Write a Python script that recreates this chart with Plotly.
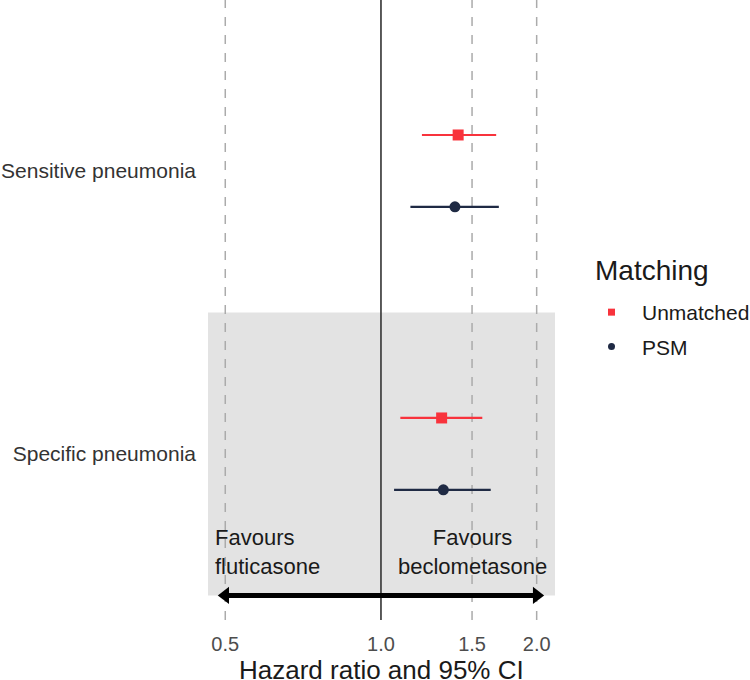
import numpy as np
import plotly.graph_objects as go

# ---- data ----
outcomes = ["Sensitive pneumonia", "Specific pneumonia"]
matching = ["Unmatched", "PSM"]
hr_unmatched = [1.41, 1.31]
lo_unmatched = [1.20, 1.09]
hi_unmatched = [1.67, 1.57]
hr_psm = [1.39, 1.32]
lo_psm = [1.14, 1.06]
hi_psm = [1.69, 1.63]
dashed_refs = [0.5, 1.5, 2.0]
null_ref = 1.0
x_ticks = [0.5, 1.0, 1.5, 2.0]
x_tick_labels = ["0.5", "1.0", "1.5", "2.0"]
arrow_ends = [0.5, 2.0]
favour_labels = ["Favours<br>fluticasone", "Favours<br>beclometasone"]
legend_title = "Matching"
x_title = "Hazard ratio and 95% CI"

FONT = "Liberation Sans, Arial, sans-serif"
colors = {"Unmatched": "#F8333C", "PSM": "#1F2A44"}
symbols = {"Unmatched": "square", "PSM": "circle"}
offsets = {"Unmatched": 0.127, "PSM": -0.127}

# category positions: first outcome at top
ypos = {o: len(outcomes) - i for i, o in enumerate(outcomes)}

fig = go.Figure()

series = {
    "Unmatched": (hr_unmatched, lo_unmatched, hi_unmatched),
    "PSM": (hr_psm, lo_psm, hi_psm),
}

for m in matching:
    hr, lo, hi = series[m]
    y = [ypos[o] + offsets[m] for o in outcomes]
    fig.add_trace(go.Scatter(
        x=hr, y=y, mode="markers", name=m, showlegend=False,
        marker=dict(symbol=symbols[m], size=11, color=colors[m]),
        error_x=dict(type="data", symmetric=False,
                     array=[h - r for h, r in zip(hi, hr)],
                     arrayminus=[r - l for r, l in zip(hr, lo)],
                     color=colors[m], thickness=2.2, width=0),
    ))
    # legend entry with smaller glyph
    fig.add_trace(go.Scatter(
        x=[None], y=[None], mode="markers", name=m, legendgroup=m,
        marker=dict(symbol=symbols[m], size=7, color=colors[m]),
    ))

# arrow
fig.add_trace(go.Scatter(
    x=arrow_ends, y=[0.5, 0.5], mode="lines+markers", showlegend=False,
    line=dict(color="black", width=5),
    marker=dict(symbol=["triangle-left", "triangle-right"], size=15, color="black"),
    hoverinfo="skip",
))

shapes = [dict(type="rect", xref="paper", x0=0, x1=1, yref="y", y0=0.5, y1=1.5,
               fillcolor="#E3E3E3", line=dict(width=0), layer="below")]
for v in dashed_refs:
    shapes.append(dict(type="line", xref="x", x0=v, x1=v,
                       yref="paper", y0=0, y1=1, layer="below",
                       line=dict(color="#ABABAB", width=1.5, dash="dash")))
shapes.append(dict(type="line", xref="x", x0=null_ref, x1=null_ref,
                   yref="paper", y0=0, y1=1, layer="below",
                   line=dict(color="#333333", width=1.6)))

annotations = [
    dict(x=np.log10(0.474), y=0.655, xref="x", yref="y", text=favour_labels[0],
         showarrow=False, xanchor="left", align="left",
         font=dict(family=FONT, size=22, color="#1a1a1a")),
    dict(x=np.log10(1.5), y=0.655, xref="x", yref="y", text=favour_labels[1],
         showarrow=False, xanchor="center", align="center",
         font=dict(family=FONT, size=22, color="#1a1a1a")),
    dict(x=(593 - 208) / 347, y=1 - 271 / 620, xref="paper", yref="paper",
         text=legend_title, showarrow=False, xanchor="left", yanchor="middle",
         font=dict(family=FONT, size=28, color="#1a1a1a")),
    dict(x=0.5, y=-50 / 620, xref="paper", yref="paper",
         text=x_title, showarrow=False, xanchor="center", yanchor="middle",
         font=dict(family=FONT, size=26, color="#1a1a1a")),
]

fig.update_layout(
    width=750, height=680,
    margin=dict(l=208, r=195, t=0, b=60),
    paper_bgcolor="white", plot_bgcolor="white",
    font=dict(family=FONT),
    shapes=shapes, annotations=annotations,
    legend=dict(font=dict(size=21, color="#1a1a1a"),
                xref="container", yref="container",
                x=581 / 750, xanchor="left", y=1 - 292 / 680, yanchor="top",
                tracegroupgap=4, itemwidth=51,
                bgcolor="rgba(0,0,0,0)"),
    xaxis=dict(type="log", range=[np.log10(0.463), np.log10(2.17)],
               tickvals=x_ticks, ticktext=x_tick_labels,
               showgrid=False, zeroline=False, showline=False, ticks="",
               ticklabelstandoff=10, automargin=False,
               tickfont=dict(size=20, color="#4D4D4D")),
    yaxis=dict(range=[0.413, 2.604], tickvals=[ypos[o] for o in outcomes], ticktext=outcomes,
               showgrid=False, zeroline=False, showline=False, ticks="",
               ticklabelstandoff=11, automargin=False,
               tickfont=dict(size=21, color="#333333")),
)

fig.write_html("out.html", config={"displayModeBar": False},
               post_script="document.body.style.margin='0px';")
